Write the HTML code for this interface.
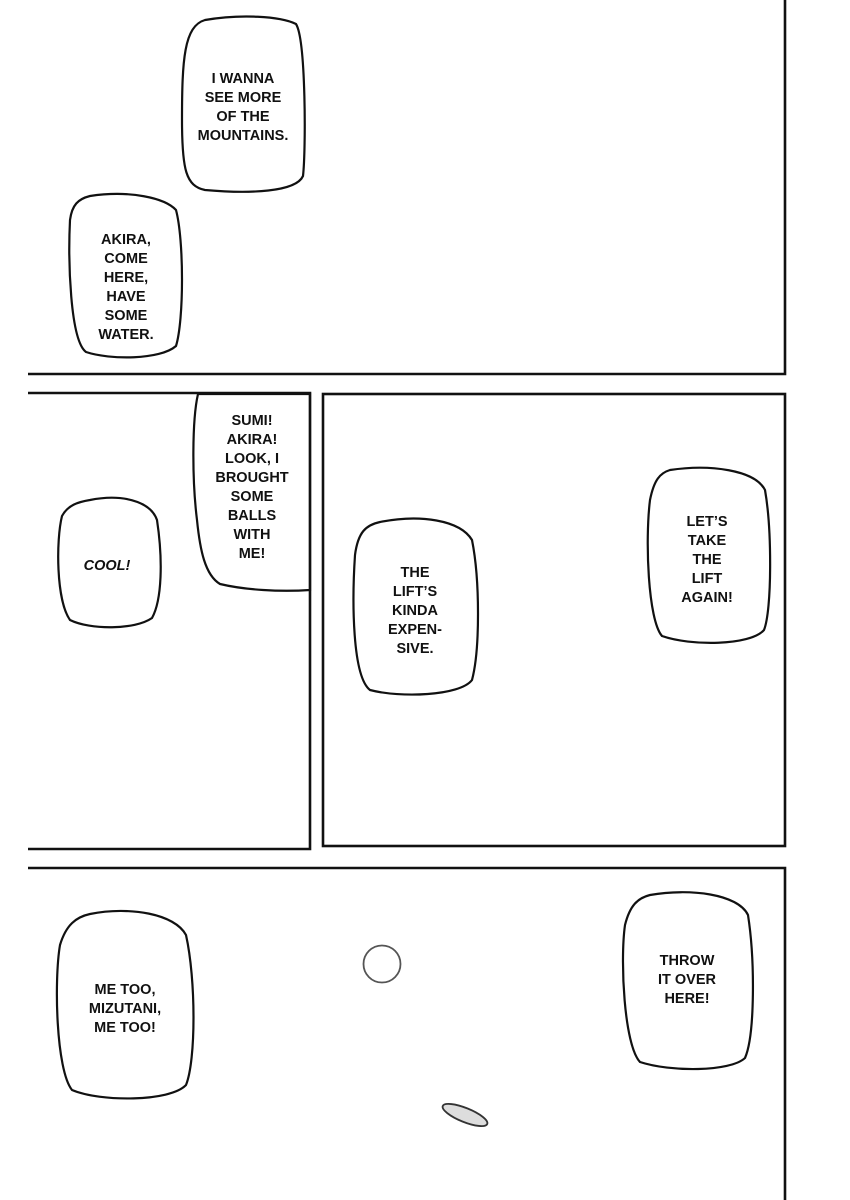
<!DOCTYPE html>
<html><head><meta charset="utf-8"><style>
html,body{margin:0;padding:0;background:#fff;}
svg{display:block;}
text{font-family:"Liberation Sans",sans-serif;font-weight:bold;font-size:14.5px;fill:#111;text-anchor:middle;}
.it{font-style:italic;}
</style></head><body>
<svg width="850" height="1200" viewBox="0 0 850 1200" xmlns="http://www.w3.org/2000/svg">
<g fill="#fff" stroke="#111" stroke-width="2.2">
<path d="M205,20 C240,14 280,16 296,24 C306,40 306,150 303,176 C296,192 250,194 205,190 C186,186 182,170 182,120 C182,60 184,26 205,20 Z"/>
<path d="M90,196 C130,190 165,198 176,210 C184,240 184,320 176,346 C160,360 110,360 86,352 C70,340 68,260 70,220 C72,205 78,199 90,196 Z"/>
<path d="M198,394 L310,394 L310,590 C280,592 245,590 220,584 C205,575 200,550 197,520 C192,480 192,420 198,394 Z"/>
<path d="M90,500 C120,494 150,500 157,520 C163,560 162,600 152,618 C135,630 90,630 70,620 C56,600 56,540 62,516 C68,505 78,502 90,500 Z"/>
<path d="M380,522 C420,514 460,520 472,540 C480,580 480,650 472,680 C460,696 400,698 370,690 C352,676 352,600 355,555 C358,532 366,525 380,522 Z"/>
<path d="M670,470 C710,464 755,470 765,490 C772,530 772,610 764,630 C750,646 690,646 662,636 C648,620 645,540 650,500 C654,480 660,473 670,470 Z"/>
<path d="M90,914 C130,906 175,914 186,935 C196,980 196,1060 186,1085 C170,1102 100,1102 72,1090 C56,1070 54,980 60,945 C66,925 76,917 90,914 Z"/>
<path d="M650,895 C690,888 738,894 748,915 C755,960 755,1035 745,1058 C730,1072 670,1072 640,1062 C624,1045 620,960 625,925 C630,905 638,898 650,895 Z"/>
</g>
<g fill="none" stroke="#111" stroke-width="2.6">
<polyline points="785,0 785,374 28,374"/>
<polyline points="28,393 310,393 310,849 28,849"/>
<rect x="323" y="394" width="462" height="452"/>
<polyline points="28,868 785,868 785,1200"/>
</g>
<circle cx="382" cy="964" r="18.5" fill="#fff" stroke="#555" stroke-width="1.8"/>
<ellipse cx="465" cy="1115" rx="24" ry="7" transform="rotate(22 465 1115)" fill="#ddd" stroke="#333" stroke-width="1.8"/>
<text x="243" y="83">I WANNA</text><text x="243" y="102">SEE MORE</text><text x="243" y="121">OF THE</text><text x="243" y="140">MOUNTAINS.</text>
<text x="126" y="244">AKIRA,</text><text x="126" y="263">COME</text><text x="126" y="282">HERE,</text><text x="126" y="301">HAVE</text><text x="126" y="320">SOME</text><text x="126" y="339">WATER.</text>
<text x="252" y="425">SUMI!</text><text x="252" y="444">AKIRA!</text><text x="252" y="463">LOOK, I</text><text x="252" y="482">BROUGHT</text><text x="252" y="501">SOME</text><text x="252" y="520">BALLS</text><text x="252" y="539">WITH</text><text x="252" y="558">ME!</text>
<text x="107" y="570" class="it">COOL!</text>
<text x="415" y="577">THE</text><text x="415" y="596">LIFT’S</text><text x="415" y="615">KINDA</text><text x="415" y="634">EXPEN-</text><text x="415" y="653">SIVE.</text>
<text x="707" y="526">LET’S</text><text x="707" y="545">TAKE</text><text x="707" y="564">THE</text><text x="707" y="583">LIFT</text><text x="707" y="602">AGAIN!</text>
<text x="125" y="994">ME TOO,</text><text x="125" y="1013">MIZUTANI,</text><text x="125" y="1032">ME TOO!</text>
<text x="687" y="965">THROW</text><text x="687" y="984">IT OVER</text><text x="687" y="1003">HERE!</text>
</svg>
</body></html>
